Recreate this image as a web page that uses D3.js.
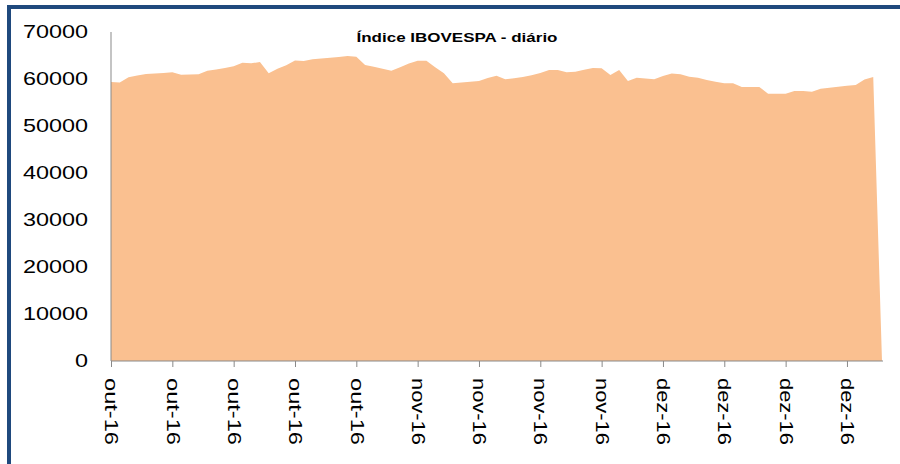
<!DOCTYPE html>
<html>
<head>
<meta charset="utf-8">
<script src="https://cdn.jsdelivr.net/npm/d3@7"></script>
<style>
  body { margin: 0; background: #fff; }
  text { font-family: "Liberation Sans", Arial, sans-serif; }
</style>
</head>
<body>
<div id="chart"></div>
<script>
// daily closes (calendar days, weekends repeat last close), from 1 Oct 2016
var startDate = new Date(Date.UTC(2016, 9, 1))
var closes = [
  59360, 59250, 60350, 60750, 61050, 61150, 61300,
  61420, 60920, 60950, 61000, 61750, 62000, 62350,
  62700, 63450, 63350, 63600, 61200, 62200, 62950,
  63950, 63830, 64190, 64350, 64500, 64700, 64890,
  64750, 63000, 62600, 62200, 61770, 62490, 63300,
  63900, 63890, 62500, 61200, 59100, 59250, 59400,
  59570, 60200, 60700, 59940, 60180, 60450, 60800,
  61300, 61910, 61900, 61430, 61560, 61950, 62350,
  62280, 60850, 61910, 59580, 60280, 60100, 59950,
  60650, 61150, 61000, 60490, 60250, 59800, 59400,
  59090, 59080, 58300, 58300, 58300, 56880, 56880,
  56880, 57450, 57450, 57300, 57950, 58150, 58350,
  58550, 58720, 59900, 60400, 0
]
var yTicks = [0, 10000, 20000, 30000, 40000, 50000, 60000, 70000]
var monthNames = ['jan', 'fev', 'mar', 'abr', 'mai', 'jun', 'jul', 'ago', 'set', 'out', 'nov', 'dez']
var title = 'Índice IBOVESPA - diário'

var data = closes.map(function (v, i) {
  return { date: d3.utcDay.offset(startDate, i), value: v }
})

var W = 900, H = 464
var plot = { left: 111, right: 882, top: 32, bottom: 361 }

var svg = d3.select('#chart').append('svg')
  .attr('width', W)
  .attr('height', H)

// outer frame (runs off the right/bottom edge like the original)
svg.append('rect')
  .attr('x', 9).attr('y', 7)
  .attr('width', 920).attr('height', 480)
  .attr('fill', 'none')
  .attr('stroke', '#1F497D')
  .attr('stroke-width', 4)

var x = d3.scaleUtc()
  .domain(d3.extent(data, function (d) { return d.date }))
  .range([plot.left, plot.right])

var y = d3.scaleLinear()
  .domain([0, 70000])
  .range([plot.bottom, plot.top])

// area
svg.append('path')
  .datum(data)
  .attr('fill', '#FAC090')
  .attr('d', d3.area()
    .x(function (d) { return x(d.date) })
    .y0(y(0))
    .y1(function (d) { return y(d.value) })
  )

// y axis
var yAxis = svg.append('g')
  .attr('transform', 'translate(' + plot.left + ',0)')
  .call(d3.axisLeft(y).tickValues(yTicks).tickSize(0).tickPadding(23).tickFormat(d3.format('d')))
yAxis.select('.domain').attr('stroke', '#898989').attr('d', 'M0,' + plot.top + 'V' + plot.bottom)
yAxis.selectAll('text')
  .attr('font-size', 18)
  .attr('font-family', '"Liberation Sans", Arial, sans-serif')
  .attr('fill', '#000')
  .attr('textLength', 65)
  .attr('lengthAdjust', 'spacingAndGlyphs')
yAxis.select('text').attr('textLength', 13) // the single "0"

// x axis, weekly ticks on Saturdays
var xTicks = d3.utcSaturday.range(startDate, d3.utcDay.offset(startDate, closes.length - 1))
var xAxis = svg.append('g')
  .attr('transform', 'translate(0,' + plot.bottom + ')')
  .call(d3.axisBottom(x).tickValues(xTicks).tickSize(6).tickSizeOuter(0)
    .tickFormat(function (d) { return monthNames[d.getUTCMonth()] + '-' + String(d.getUTCFullYear()).slice(2) }))
xAxis.select('.domain').attr('stroke', '#898989').attr('d', 'M' + plot.left + ',0H' + (plot.right + 1))
xAxis.selectAll('line').attr('stroke', '#898989')
xAxis.selectAll('text')
  .attr('font-size', 18)
  .attr('font-family', '"Liberation Sans", Arial, sans-serif')
  .attr('fill', '#000')
  .attr('text-anchor', 'start')
  .attr('transform', 'rotate(90)')
  .attr('x', 17)
  .attr('y', 0)
  .attr('dy', '0.35em')
  .attr('textLength', 67)
  .attr('lengthAdjust', 'spacingAndGlyphs')

// title
svg.append('text')
  .attr('x', 457)
  .attr('y', 42)
  .attr('text-anchor', 'middle')
  .attr('font-size', 13)
  .attr('font-weight', 'bold')
  .attr('textLength', 201)
  .attr('lengthAdjust', 'spacingAndGlyphs')
  .text(title)
</script>
</body>
</html>
